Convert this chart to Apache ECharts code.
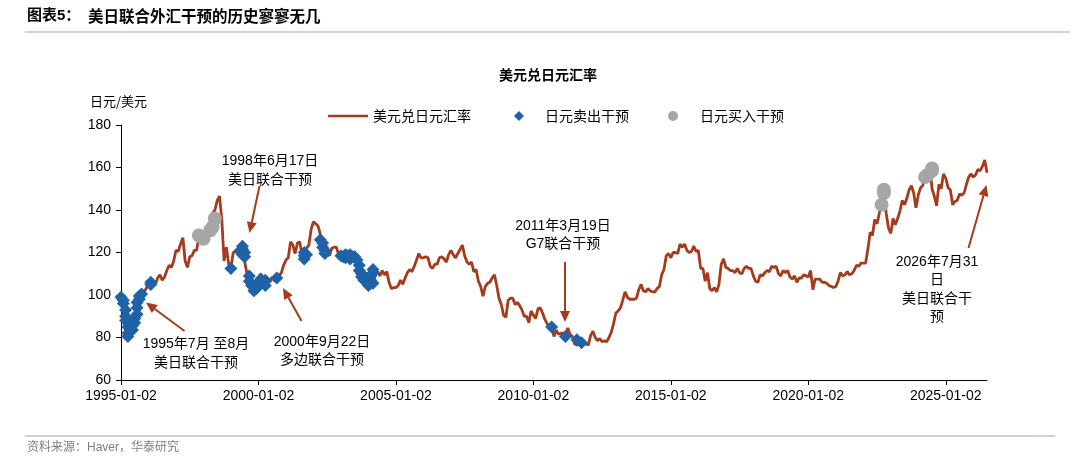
<!DOCTYPE html>
<html>
<head>
<meta charset="utf-8">
<script src="https://cdn.jsdelivr.net/npm/echarts@6/dist/echarts.min.js"></script>
<style>
html, body { margin: 0; padding: 0; background: #fff; }
#chart { width: 1080px; height: 462px; }
</style>
</head>
<body>
<div id="chart"></div>
<script>
// 美元兑日元汇率，月度，1995-01 起
var startYear = 1995;
var rate = [
  100, 97, 89, 82, 84.5, 84.5, 87.5, 95, 99.5, 101, 101.5, 103,          // 1995
  105.5, 105, 106.5, 105, 108, 109.5, 107, 108.5, 111.5, 114, 113, 116,   // 1996
  121, 120.5, 124, 127, 116, 113, 118, 118.5, 121, 121, 127.5, 130,       // 1997
  127, 126.5, 132.5, 132.5, 138.5, 140, 144.5, 146.5, 135.5, 116, 122.5, 114.5, // 1998
  113, 120, 120.5, 119.5, 122.5, 121, 115.5, 110, 106.5, 104.5, 102, 102.5, // 1999
  106.5, 110, 105.5, 107, 107.5, 106, 108.5, 106.5, 108, 109, 110.5, 114, // 2000
  116.5, 117.5, 125, 123.5, 119.5, 124.5, 125, 119, 117.5, 122, 123.5, 131, // 2001
  134.5, 133.5, 132.5, 128.5, 124, 119.5, 119.5, 118.5, 122, 122.5, 122.5, 119, // 2002
  119.5, 118, 118, 119, 119, 119.5, 120, 117, 111.5, 109.5, 109.5, 107.5, // 2003
  105.5, 109, 104.5, 110, 111, 109, 111.5, 109.5, 111, 106, 103, 103.5,   // 2004
  103.5, 104.5, 107, 105, 108, 110.5, 112, 111, 113.5, 116.5, 119.5, 117.5, // 2005
  117.5, 118, 117.5, 113.5, 112.5, 114.5, 114.5, 117.5, 118, 117, 115.5, 119, // 2006
  121, 119, 117.5, 119.5, 121.5, 123.5, 118.5, 115.5, 114.5, 115.5, 111, 112, // 2007
  106.5, 104, 99.5, 104, 105.5, 106, 108, 109.5, 104.5, 98.5, 95.5, 90.5, // 2008
  89.5, 97.5, 98.5, 98.5, 95.5, 96.5, 95, 93, 90, 90, 87, 92.5,           // 2009
  90.5, 89, 93.5, 94, 91.5, 88.5, 86.5, 84.5, 85, 80.5, 83.5, 81.5,       // 2010
  82, 82, 80.5, 84.5, 81.5, 80.5, 77, 76.5, 77, 78, 77.5, 77,             // 2011
  76.5, 81, 83, 80, 78.5, 79.5, 78, 78.5, 78, 80, 82.5, 86.5,             // 2012
  91.5, 92.5, 94, 97.5, 101.5, 99, 98, 98, 98, 98.5, 102.5, 105,          // 2013
  102, 101.5, 103, 102, 101.5, 101.5, 103, 104, 109.5, 112, 118.5, 119.5, // 2014
  117.5, 120, 120, 119.5, 124, 122.5, 124, 121, 120, 120.5, 123, 120.5,   // 2015
  121, 112.5, 112.5, 106.5, 110.5, 103, 102, 103.5, 101.5, 105, 114.5, 117, // 2016
  113, 112.5, 111.5, 111.5, 110.5, 112.5, 110.5, 110, 112.5, 113.5, 112.5, 112.5, // 2017
  109, 106.5, 106, 109.5, 109, 110.5, 111.5, 111, 113.5, 113, 113.5, 110, // 2018
  109, 111.5, 110.5, 111.5, 108.5, 107.5, 109, 106, 108, 108, 109.5, 109, // 2019
  108.5, 111.5, 102.5, 107.5, 107.5, 107.5, 106, 106, 105.5, 104.5, 104, 103.5, // 2020
  104, 106.5, 110.5, 109, 109.5, 111, 109.5, 110, 111.5, 114, 113.5, 115, // 2021
  115, 115, 121.5, 129.5, 128, 135.5, 133.5, 138.5, 144.5, 148.5, 138.5, 131.5, // 2022
  129, 136, 133, 136, 139.5, 144.5, 142.5, 145.5, 149.5, 151.5, 148, 141, // 2023
  147, 150.5, 151.5, 157.5, 157, 161, 150, 146.5, 142, 152, 150, 157,     // 2024
  155, 150.5, 149.5, 142.5, 144, 144.5, 147.5, 147, 148, 152, 155.5, 157, // 2025
  155.5, 156.5, 159, 158.5, 160.5, 163.5, 157.5                           // 2026
];

// 日元卖出干预
var sellDates = [
  '1995-01', '1995-02', '1995-02', '1995-03', '1995-03', '1995-03', '1995-04', '1995-04', '1995-04',
  '1995-05', '1995-05', '1995-06', '1995-06', '1995-07', '1995-07', '1995-08', '1995-08', '1995-08',
  '1995-09', '1995-09', '1995-10', '1996-02', '1996-02',
  '1999-01', '1999-05', '1999-06', '1999-06', '1999-06', '1999-07', '1999-07',
  '1999-09', '1999-09', '1999-10', '1999-11', '1999-12', '2000-01', '2000-02', '2000-03', '2000-04', '2000-04', '2000-09',
  '2001-09', '2001-09', '2001-09', '2001-10',
  '2002-04', '2002-05', '2002-05', '2002-06', '2002-06',
  '2003-01', '2003-02', '2003-03', '2003-03', '2003-04', '2003-05', '2003-05', '2003-06', '2003-07', '2003-08',
  '2003-09', '2003-09', '2003-10', '2003-10', '2003-11', '2003-11', '2003-12', '2004-01', '2004-01', '2004-02',
  '2004-02', '2004-03', '2004-03', '2004-03',
  '2010-09', '2011-03', '2011-08', '2011-10'
];
var sellValues = [
  99, 97.5, 96, 93, 90, 88, 85, 82, 80.5,
  84, 86, 83.5, 85.5, 87, 89, 91, 94, 96.5,
  98, 99.5, 100.5, 105, 106,
  112.5, 121, 123, 121.5, 119, 118, 120,
  109, 106.5, 104.5, 102, 103, 105.5, 107.5, 106, 104.5, 107, 108,
  117, 118.5, 120, 119,
  126, 124.5, 122.5, 121, 119.5,
  118.5, 118, 117.5, 119, 118.5, 117, 119, 118, 118, 116.5,
  114, 111.5, 110, 108.5, 109, 107, 107.5, 106, 104.5, 107,
  109, 110.5, 112, 105.5,
  85, 80.5, 79, 77.5
];

// 日元买入干预
var buyDates = ['1997-11', '1998-01', '1998-04', '1998-05', '1998-06',
  '2022-09', '2022-10', '2022-10', '2024-04', '2024-05', '2024-07', '2024-07'];
var buyValues = [128, 126.5, 130.5, 132, 136,
  142.5, 148, 149.5, 155.5, 156.5, 158.5, 159.5];

var yMin = 60, yMax = 180, yStep = 20;

var lineColor = '#A63A1C';
var sellColor = '#1F62A8';
var buyColor = '#A6A6A6';
var cjk = "'Noto Sans CJK SC', sans-serif";
var mixed = "'Liberation Sans', 'Noto Sans CJK SC', sans-serif";

var months = [];
for (var i = 0; i < rate.length; i++) {
  var y = startYear + Math.floor(i / 12), m = i % 12 + 1;
  months.push(y + '-' + (m < 10 ? '0' : '') + m + '-02');
}
function pairs(dates, vals) {
  return dates.map(function (d, k) { return [d + '-02', vals[k]]; });
}
function showTick(idx, val) {
  return val.slice(5) === '01-02' && (+val.slice(0, 4) - startYear) % 5 === 0;
}

// 箭头
function arrow(x1, y1, x2, y2) {
  var dx = x2 - x1, dy = y2 - y1, len = Math.sqrt(dx * dx + dy * dy);
  var ux = dx / len, uy = dy / len, hl = 11, hw = 5;
  var bx = x2 - ux * hl, by = y2 - uy * hl;
  return [{
    type: 'line', shape: { x1: x1, y1: y1, x2: bx, y2: by },
    style: { stroke: lineColor, lineWidth: 2 }
  }, {
    type: 'polygon',
    shape: { points: [[x2, y2], [bx - uy * hw, by + ux * hw], [bx + uy * hw, by - ux * hw]] },
    style: { fill: lineColor }
  }];
}
function label(x, y, t) {
  return {
    type: 'text', x: x, y: y,
    style: { text: t, fill: '#000', font: '14px ' + mixed, align: 'center', verticalAlign: 'middle' }
  };
}

var graphics = [
  { type: 'text', x: 27, y: 16, style: { text: '图表5：', fill: '#000', font: 'bold 15px ' + mixed, verticalAlign: 'middle' } },
  { type: 'text', x: 88, y: 16, style: { text: '美日联合外汇干预的历史寥寥无几', fill: '#000', font: 'bold 15.5px ' + cjk, verticalAlign: 'middle' } },
  { type: 'line', shape: { x1: 25, y1: 32, x2: 1070, y2: 32 }, style: { stroke: '#C8D4E0', lineWidth: 2 } },
  { type: 'line', shape: { x1: 25, y1: 436, x2: 1055, y2: 436 }, style: { stroke: '#C8D4E0', lineWidth: 2 } },
  { type: 'text', x: 27, y: 448, style: { text: '资料来源：Haver，华泰研究', fill: '#7F7F7F', font: '12px ' + mixed, verticalAlign: 'middle' } },
  { type: 'text', x: 548, y: 75, style: { text: '美元兑日元汇率', fill: '#000', font: 'bold 14px ' + cjk, align: 'center', verticalAlign: 'middle' } },
  { type: 'text', x: 90, y: 101, style: { text: '日元/美元', fill: '#000', font: '13px ' + cjk, verticalAlign: 'middle' } },
  label(270, 161, '1998年6月17日'),
  label(270, 180, '美日联合干预'),
  label(196, 344, '1995年7月 至8月'),
  label(196, 363, '美日联合干预'),
  label(322, 342, '2000年9月22日'),
  label(322, 360, '多边联合干预'),
  label(563, 226, '2011年3月19日'),
  label(563, 244, 'G7联合干预'),
  label(937, 262, '2026年7月31'),
  label(937, 280, '日'),
  label(937, 299, '美日联合干'),
  label(937, 317, '预')
].concat(
  arrow(259.5, 186, 249.5, 233),
  arrow(184.5, 331, 146, 302.5),
  arrow(301.5, 321, 283, 288),
  arrow(565, 262, 565, 322),
  arrow(968.5, 248, 986.5, 185)
);

var chart = echarts.init(document.getElementById('chart'), null, { renderer: 'canvas' });
chart.setOption({
  animation: false,
  backgroundColor: '#fff',
  grid: { left: 121, right: 93, top: 125, bottom: 82, containLabel: false },
  legend: [{
    data: ['美元兑日元汇率'], left: 323, top: 104, icon: 'rect', itemWidth: 40, itemHeight: 2.5,
    textStyle: { fontSize: 14, fontFamily: cjk, color: '#000' }
  }, {
    data: ['日元卖出干预'], left: 509, top: 104, icon: 'diamond', itemWidth: 10, itemHeight: 10,
    textStyle: { fontSize: 14, fontFamily: cjk, color: '#000', padding: [0, 0, 0, 16] }
  }, {
    data: ['日元买入干预'], left: 663, top: 104, icon: 'circle', itemWidth: 10, itemHeight: 10,
    textStyle: { fontSize: 14, fontFamily: cjk, color: '#000', padding: [0, 0, 0, 17] }
  }],
  xAxis: {
    type: 'category', data: months, boundaryGap: false,
    axisLine: { lineStyle: { color: '#000', width: 1 } },
    axisTick: { show: true, inside: false, length: 5, interval: showTick, lineStyle: { color: '#000' } },
    axisLabel: { interval: showTick, margin: 9, fontSize: 14, fontFamily: 'Liberation Sans', color: '#000' },
    splitLine: { show: false }
  },
  yAxis: {
    type: 'value', min: yMin, max: yMax, interval: yStep,
    axisLine: { show: true, lineStyle: { color: '#000', width: 1 } },
    axisTick: { show: true, inside: false, length: 5, lineStyle: { color: '#000' } },
    axisLabel: { margin: 10, fontSize: 14, fontFamily: 'Liberation Sans', color: '#000' },
    splitLine: { show: false }
  },
  series: [{
    name: '美元兑日元汇率', type: 'line', data: rate, showSymbol: false, z: 2,
    lineStyle: { color: lineColor, width: 2.8 }, itemStyle: { color: lineColor }
  }, {
    name: '日元卖出干预', type: 'scatter', data: pairs(sellDates, sellValues), z: 4,
    symbol: 'diamond', symbolSize: 13, itemStyle: { color: sellColor, opacity: 1 }
  }, {
    name: '日元买入干预', type: 'scatter', data: pairs(buyDates, buyValues), z: 3,
    symbol: 'circle', symbolSize: 14, itemStyle: { color: buyColor, opacity: 1 }
  }],
  graphic: { elements: graphics }
});
</script>
</body>
</html>
